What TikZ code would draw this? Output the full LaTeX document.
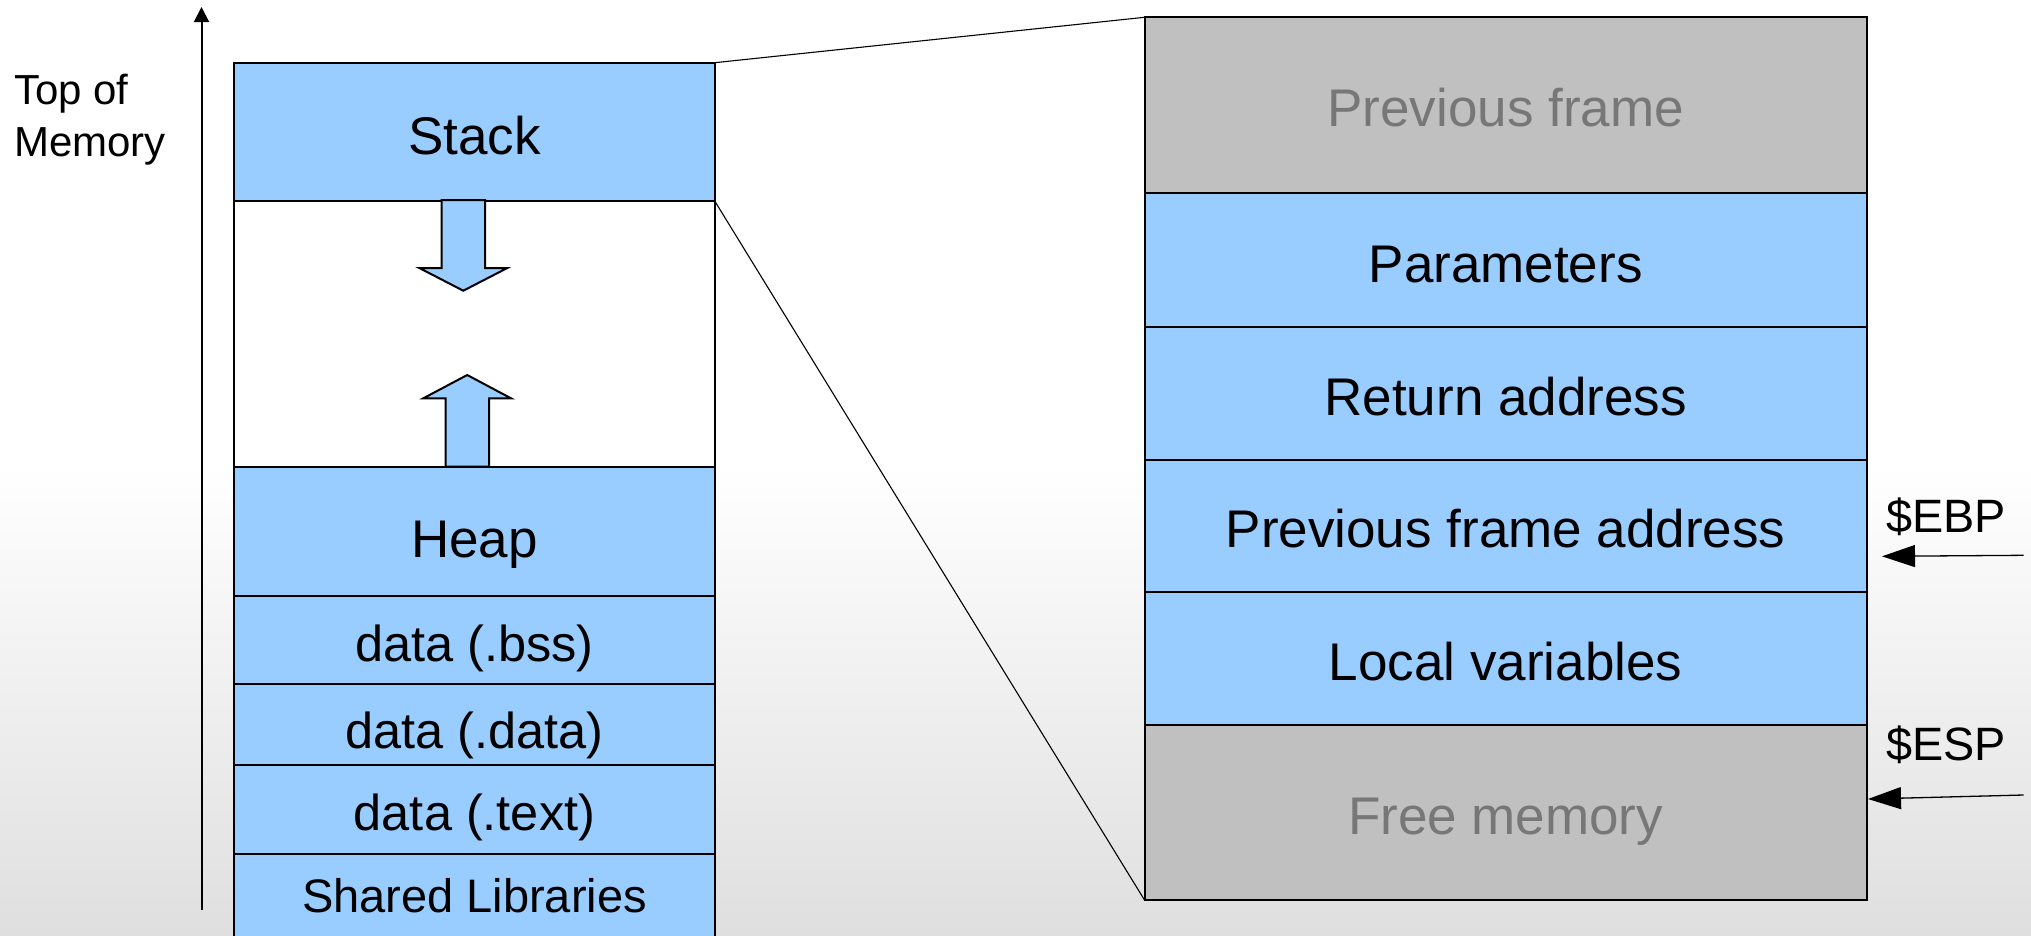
\documentclass[tikz,border=0pt]{standalone}
\usepackage{fontspec}
\setmainfont{Liberation Sans}
\usetikzlibrary{arrows.meta}
\definecolor{memblue}{HTML}{99CCFF}
\definecolor{memgray}{HTML}{C0C0C0}
\definecolor{memtext}{HTML}{777777}
\definecolor{bgbottom}{HTML}{DFDFDF}
\tikzset{
  membox/.style={draw=black, line width=2pt, fill=memblue, inner sep=0pt, outer sep=0pt},
  leftcol/.style={membox, minimum width=480.4pt},
  rightcol/.style={membox, minimum width=722.2pt},
  grayrow/.style={fill=memgray},
  biglbl/.style={anchor=base, inner sep=0pt, font=\fontsize{53}{60}\selectfont},
  midlbl/.style={anchor=base, inner sep=0pt, font=\fontsize{50.5}{60}\selectfont},
  reglbl/.style={anchor=base west, inner sep=0pt, font=\fontsize{46.8}{56}\selectfont},
  fatarrow/.style={draw=black, line width=2pt, fill=memblue, line join=miter},
  regarrow/.style={line width=1.3pt, -{Triangle[length=33pt,width=22pt]}},
  zoomline/.style={line width=1.1pt}
}
\begin{document}
\begin{tikzpicture}[x=1pt,y=-1pt]
\useasboundingbox (0,0) rectangle (2031,935);
\clip (0,0) rectangle (2031,935);
% background
\fill[white] (0,0) rectangle (2031,466);
\shade[top color=white, bottom color=bgbottom] (0,465) rectangle (2031,935);

% left column
\node[leftcol, fill=white, minimum height=266.3pt] (gap) at (474.5,334.15) {};
\node[leftcol, minimum height=138.3pt] (stack) at (474.5,131.85) {};
\node[leftcol, minimum height=128.4pt] (heap) at (474.5,531.5) {};
\node[leftcol, minimum height=88.3pt] (bss) at (474.5,639.85) {};
\node[leftcol, minimum height=80.5pt] (dat) at (474.5,724.25) {};
\node[leftcol, minimum height=89pt] (txt) at (474.5,809) {};
\node[leftcol, minimum height=106.5pt] (shlib) at (474.5,906.75) {};

% growth arrows
\draw[fatarrow] (441.7,200) -- (485,200) -- (485,268) -- (507.3,268) -- (463.3,290.7)
  -- (419.3,268) -- (441.7,268) -- cycle;
\draw[fatarrow] (445.7,466.7) -- (445.7,398.3) -- (423.3,398.3) -- (467.2,375)
  -- (511,398.3) -- (489,398.3) -- (489,466.7) -- cycle;

% left labels
\node[biglbl] (tstack) at (474.5,154) {Stack};
\node[biglbl] (theap) at (474.5,557.7) {Heap};
\node[midlbl] (tbss) at (474.5,661.7) {data (.bss)};
\node[midlbl] (tdat) at (474.5,748) {data (.data)};
\node[midlbl] (ttxt) at (474.5,830.5) {data (.text)};
\node[anchor=base, inner sep=0pt, font=\fontsize{47}{56}\selectfont] (tshlib) at (474.5,912.3) {Shared Libraries};

% memory axis
\coordinate (axisbot) at (201.5,910);
\coordinate (axistop) at (201.5,7);
\draw[line width=2pt, -{Triangle[length=15pt,width=15pt]}] (axisbot) -- (axistop);
\node[anchor=base west, inner sep=0pt, align=left, font=\fontsize{42}{52}\selectfont] (topmem) at (14,156) {Top of\\Memory};

% right column (stack frame)
\node[rightcol, grayrow, minimum height=175.7pt] (prev) at (1505.6,105.15) {};
\node[rightcol, minimum height=133.7pt] (params) at (1505.6,259.85) {};
\node[rightcol, minimum height=132.8pt] (ret) at (1505.6,393.1) {};
\node[rightcol, minimum height=132.3pt] (pfa) at (1505.6,525.65) {};
\node[rightcol, minimum height=133.2pt] (locals) at (1505.6,658.4) {};
\node[rightcol, grayrow, minimum height=175pt] (free) at (1505.6,812.5) {};

\node[biglbl, text=memtext] (tprev) at (1505.6,126.7) {Previous frame};
\node[biglbl] (tparams) at (1505.6,282.7) {Parameters};
\node[biglbl] (tret) at (1505.6,415) {Return address};
\node[biglbl] (tpfa) at (1505.6,547.7) {Previous frame address};
\node[biglbl] (tlocals) at (1505.6,680.4) {Local variables};
\node[biglbl, text=memtext] (tfree) at (1505.6,834.5) {Free memory};

% zoom lines
\draw[zoomline] (stack.north east) -- (prev.north west);
\draw[zoomline] (stack.south east) -- (free.south west);

% registers
\node[reglbl] (ebp) at (1886,532.7) {\$EBP};
\node[reglbl] (esp) at (1886,760.7) {\$ESP};
\coordinate (ebpfrom) at (2023.5,555.3);
\coordinate (ebpto) at (1882,556.3);
\coordinate (espfrom) at (2023.5,795);
\coordinate (espto) at (1868,799);
\draw[regarrow] (ebpfrom) -- (ebpto);
\draw[regarrow] (espfrom) -- (espto);
\end{tikzpicture}
\end{document}
